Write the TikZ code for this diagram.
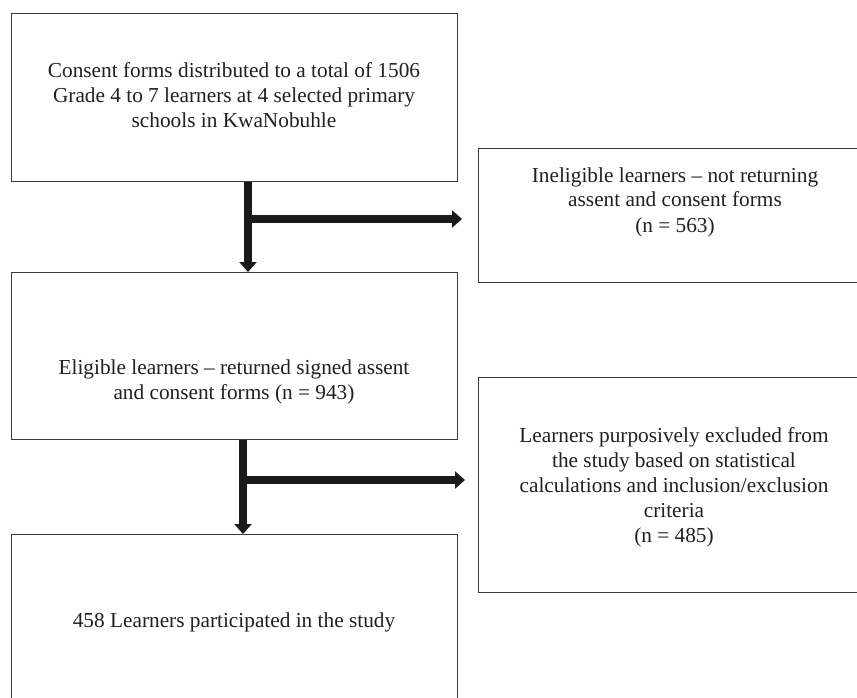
\documentclass[tikz,border=0pt]{standalone}
\usepackage{fontspec}
\setmainfont{Liberation Serif}
\usetikzlibrary{arrows.meta}
\definecolor{txt}{HTML}{231F20}
\definecolor{edge}{HTML}{3A3A3A}
\definecolor{arrowc}{HTML}{1A1A1A}
\tikzset{
  box/.style={draw=edge, line width=1.4pt, inner sep=0pt, anchor=north west, fill=none},
  label/.style={text=txt, align=center, inner sep=0pt, anchor=base, font=\fontsize{21.3}{25}\selectfont},
  arr/.style={draw=arrowc, line width=8pt, -{Triangle[width=17pt,length=10pt]}},
}
\begin{document}
\begin{tikzpicture}[x=1pt,y=-1pt]
\clip (0,0) rectangle (857,698);
\fill[white] (0,0) rectangle (857,698);
% boxes
\node[box, minimum width=446pt, minimum height=168pt] (b1) at (11,13) {};
\node[box, minimum width=446pt, minimum height=167pt] (b2) at (11,272) {};
\node[box, minimum width=446pt, minimum height=200pt] (b3) at (11,534) {};
\node[box, minimum width=400pt, minimum height=134pt] (r1) at (478,148) {};
\node[box, minimum width=400pt, minimum height=215pt] (r2) at (478,377) {};
% texts (anchor base = baseline of the last line)
\node[label] (t1) at (234,128) {Consent forms distributed to a total of 1506\\Grade 4 to 7 learners at 4 selected primary\\schools in KwaNobuhle};
\node[label] (t2) at (234,399) {Eligible learners -- returned signed assent\\and consent forms (n = 943)};
\node[label] (t3) at (234,627) {458 Learners participated in the study};
\node[label] (t4) at (675,232) {Ineligible learners -- not returning\\assent and consent forms\\(n = 563)};
\node[label] (t5) at (674,542) {Learners purposively excluded from\\the study based on statistical\\calculations and inclusion/exclusion\\criteria\\(n = 485)};
% connectors
\coordinate (x1) at (248,0);
\coordinate (x2) at (243,0);
\coordinate (j1) at (248,219);
\coordinate (j2) at (243,480);
\draw[arr] (b1.south -| x1) -- (b2.north -| x1);
\draw[arr, shorten >=16pt] (j1) -- (j1 -| r1.west);
\draw[arr] (b2.south -| x2) -- (b3.north -| x2);
\draw[arr, shorten >=13pt] (j2) -- (j2 -| r2.west);
\end{tikzpicture}
\end{document}
